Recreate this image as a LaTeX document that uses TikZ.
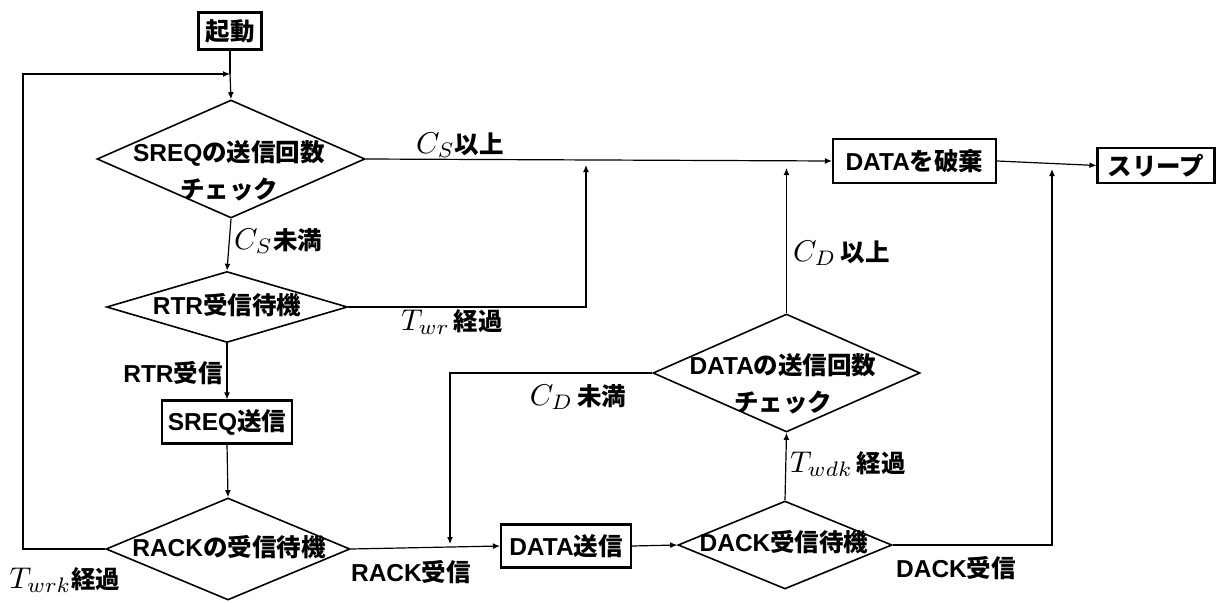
\documentclass[tikz,border=0pt]{standalone}
\usepackage{graphicx}
\usepackage{fontspec}
\setmainfont{Liberation Sans}
\newfontfamily\jpfont{Noto Sans CJK JP}
\usetikzlibrary{shapes.geometric,arrows.meta}

\newcommand\jtxt[1]{{\jpfont\bfseries #1}}
\newcommand\mth[1]{\scalebox{3}{\fontsize{10}{12}\selectfont$#1$}}

\tikzset{
  every node/.style={font=\fontsize{24.5}{28}\selectfont\bfseries},
  box/.style={draw, line width=2.1pt, inner sep=0pt, minimum height=40pt},
  dia/.style={draw, diamond, line width=1.6pt, inner sep=0pt},
  txt/.style={inner sep=0pt, align=center},
  lbl/.style={inner sep=0pt},
  link/.style={line width=1.2pt, -{Latex[length=7pt,width=6pt]}},
  plain/.style={line width=1.2pt}
}

\begin{document}
\begin{tikzpicture}[x=1pt,y=-1pt]
\useasboundingbox (0,0) rectangle (1222,602);

% process boxes
\node[box, minimum width=63pt, minimum height=37pt] (start) at (230,31) {\jtxt{起動}};
\node[box, minimum width=130pt, minimum height=43pt] (sreqtx) at (227,422) {SREQ\jtxt{送信}};
\node[box, minimum width=130pt, minimum height=43pt] (datatx) at (566,546) {DATA\jtxt{送信}};
\node[box, minimum width=163pt, minimum height=44pt] (discard) at (914.5,161) {DATA\jtxt{を破棄}};
\node[box, minimum width=117pt, minimum height=35pt] (sleep) at (1156,165.5) {\jtxt{スリープ}};

% decision diamonds
\node[dia, minimum width=268pt, minimum height=118pt] (sreqchk) at (231,159) {};
\node[txt] (sreqchkt) at (229,171) {SREQ\jtxt{の送信回数}\\[9pt]\jtxt{チェック}};
\node[dia, minimum width=241pt, minimum height=71pt] (rtrw) at (227,307) {};
\node[txt] (rtrwt) at (227,305) {RTR\jtxt{受信待機}};
\node[dia, minimum width=244pt, minimum height=102pt] (rackw) at (228,549) {};
\node[txt] (rackwt) at (229,547) {RACK\jtxt{の受信待機}};
\node[dia, minimum width=214pt, minimum height=88pt] (dackw) at (785,545) {};
\node[txt] (dackwt) at (784,542) {DACK\jtxt{受信待機}};
\node[dia, minimum width=267pt, minimum height=118pt] (datachk) at (786.5,373) {};
\node[txt] (datachkt) at (783,384) {DATA\jtxt{の送信回数}\\[9pt]\jtxt{チェック}};

% junction points
\coordinate (loopin) at (230,74);
\coordinate (loopl1) at (23,549);
\coordinate (loopl2) at (23,74);
\coordinate (twr1) at (586,307);
\coordinate (twr2) at (586,165);
\coordinate (cd1) at (786.5,168);
\coordinate (cdl1) at (450,373);
\coordinate (cdl2) at (450,544);
\coordinate (dk1) at (1052,545);
\coordinate (dk2) at (1052,169);

% connectors
\draw[plain] (start.south) -- (loopin);
\draw[link] (loopin) -- (sreqchk.north);
\draw[link] (rackw.west) -- (loopl1) -- (loopl2) -- (loopin);
\draw[link] (sreqchk.east) -- (discard.west);
\draw[link] (sreqchk.south) -- (rtrw.north);
\draw[link] (rtrw.east) -- (twr1) -- (twr2);
\draw[link] (rtrw.south) -- (sreqtx.north);
\draw[link] (sreqtx.south) -- (rackw.north);
\draw[link] (rackw.east) -- (datatx.west);
\draw[link] (datatx.east) -- (dackw.west);
\draw[link] (dackw.north) -- (datachk.south);
\draw[link] (datachk.north) -- (cd1);
\draw[link] (datachk.west) -- (cdl1) -- (cdl2);
\draw[link] (dackw.east) -- (dk1) -- (dk2);
\draw[link] (discard.east) -- (sleep.west);

% branch labels
\node[lbl] (lcsge) at (460,145) {\mth{C_S}\jtxt{以上}};
\node[lbl, anchor=west] (lcslt) at (234,241) {\mth{C_S}\jtxt{未満}};
\node[lbl] (ltwr) at (452,322) {\mth{T_{wr}}\,\jtxt{経過}};
\node[lbl] (lrtr) at (173,373) {RTR\jtxt{受信}};
\node[lbl] (ltwrk) at (65,580) {\mth{T_{wrk}}\jtxt{経過}};
\node[lbl] (lrack) at (411,572) {RACK\jtxt{受信}};
\node[lbl] (ldack) at (956,568) {DACK\jtxt{受信}};
\node[lbl, anchor=west] (ltwdk) at (790,464) {\mth{T_{wdk}}\,\jtxt{経過}};
\node[lbl, anchor=west] (lcdge) at (793,253) {\mth{C_D}\,\jtxt{以上}};
\node[lbl] (lcdlt) at (578,397) {\mth{C_D}\,\jtxt{未満}};
\end{tikzpicture}
\end{document}
